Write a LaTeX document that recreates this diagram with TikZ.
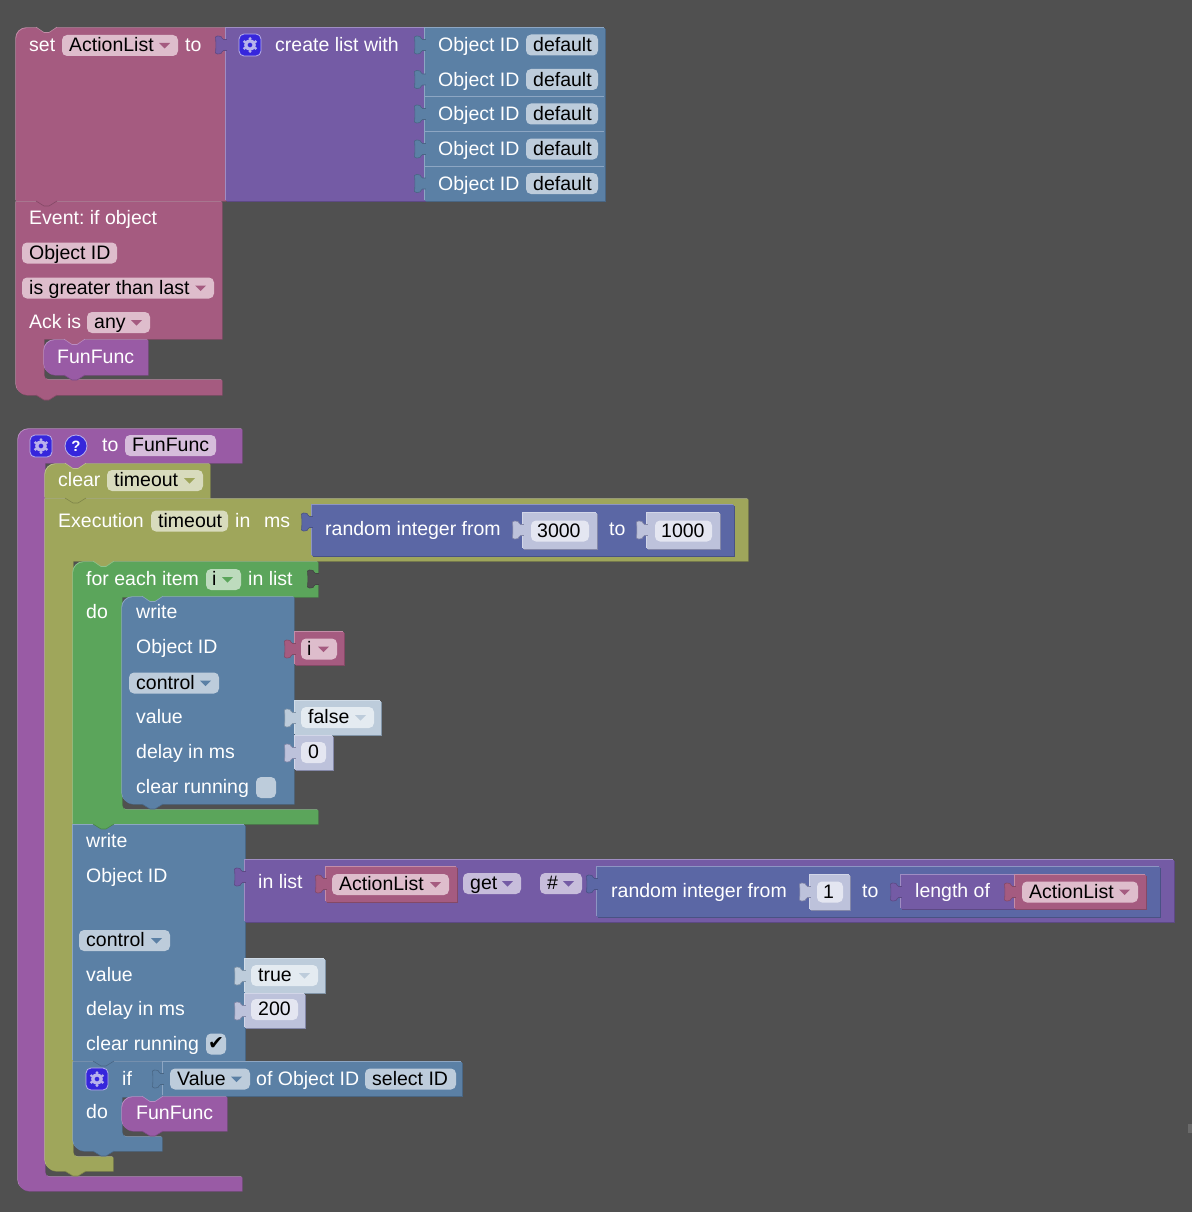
\documentclass[tikz,border=0pt]{standalone}
\usepackage{fontspec}
\setmainfont{Liberation Sans}
\newfontfamily\checkfont{DejaVu Sans}
\definecolor{bgcol}{HTML}{505050}\definecolor{bgcoldark}{HTML}{444444}
\definecolor{rose}{HTML}{A55B80}\definecolor{roselight}{HTML}{C38DA8}\definecolor{rosedark}{HTML}{844966}\definecolor{rosefield}{HTML}{DEBDCC}
\definecolor{lila}{HTML}{745BA5}\definecolor{lilalight}{HTML}{9F8DC3}\definecolor{liladark}{HTML}{5D4984}\definecolor{lilafield}{HTML}{C7BDDB}
\definecolor{proc}{HTML}{995BA5}\definecolor{proclight}{HTML}{BA8DC3}\definecolor{procdark}{HTML}{7A4984}\definecolor{procfield}{HTML}{D6BDDB}
\definecolor{olive}{HTML}{9FA65B}\definecolor{olivelight}{HTML}{BCC18D}\definecolor{olivedark}{HTML}{7F8549}\definecolor{olivefield}{HTML}{D8DBBD}
\definecolor{leaf}{HTML}{5BA55B}\definecolor{leaflight}{HTML}{8DC38D}\definecolor{leafdark}{HTML}{498449}\definecolor{leaffield}{HTML}{BDDBBD}
\definecolor{steel}{HTML}{5B80A5}\definecolor{steellight}{HTML}{8DA6C3}\definecolor{steeldark}{HTML}{496684}\definecolor{steelfield}{HTML}{BDCCDB}
\definecolor{indi}{HTML}{5B67A5}\definecolor{indilight}{HTML}{8D95C3}\definecolor{indidark}{HTML}{495284}
\definecolor{pale}{HTML}{BDCCDB}\definecolor{palelight}{HTML}{D0DCE8}\definecolor{paledark}{HTML}{8295A8}\definecolor{palefield}{HTML}{E4EBF1}
\definecolor{lav}{HTML}{BDC2DB}\definecolor{lavlight}{HTML}{D2D6E8}\definecolor{lavdark}{HTML}{8488A8}\definecolor{lavfield}{HTML}{E4E6F1}
\definecolor{iconblue}{HTML}{3626DC}\definecolor{iconpale}{HTML}{B9B2EC}
\tikzset{
  lab/.style={anchor=base west,inner sep=0pt,yshift=-.7pt,text=white,font=\fontsize{19.5}{23}\selectfont},
  fldtxt/.style={lab,text=black},
}
% block with lit and shaded rim
\newcommand{\blk}[2]{\fill[#1light,shift={(-.7pt,.7pt)}] #2; \fill[#1dark,shift={(.7pt,-.7pt)}] #2; \fill[#1] #2;}
\newcommand{\rblk}[5]{\blk{#1}{(#2,#3) rectangle (#4,#5)}}
% output tab on the left of a block
\newcommand{\otab}[3]{\draw[#1dark,line width=.6pt,fill=#1,shift={(#2,#3)}] (.9,3.5) -- (-2.5,3.5) .. controls (-4,3.5) and (-4,1) .. (-5,.5) .. controls (-7,-.3) and (-10,-.3) .. (-10.5,1) .. controls (-10,6) and (-10,12) .. (-10.5,17) .. controls (-10,18.3) and (-7,18.3) .. (-5,17.5) .. controls (-4,17) and (-4,14.5) .. (-2.5,14.5) -- (.9,14.5);}
% next tab under a block, notch on top of a block
\newcommand{\ntab}[3]{\draw[#1dark,line width=.6pt,fill=#1,shift={(#2,#3)}] (0,0) -- (8,5) -- (13,5) -- (21,0);}
\newcommand{\topnotch}[4]{\draw[#2light,line width=.6pt,fill=#1,shift={(#3,#4)}] (0,-.9) -- (8,4.5) -- (13,4.5) -- (21,-.9);}
\newcommand{\fld}[4]{\fill[#1field,rounded corners=5pt] (#2,#4-10.5) rectangle (#3,#4+10.5);}
\newcommand{\dfld}[4]{\fld{#1}{#2}{#3}{#4} \fill[#1] (#3-19,#4-2.5) -- (#3-8,#4-2.5) -- (#3-13.5,#4+3) -- cycle;}
\newcommand{\gearicon}[2]{\draw[iconpale,fill=iconblue,line width=.8pt,rounded corners=5pt] (#1-11,#2-11) rectangle (#1+11,#2+11);
  \draw[iconpale,line width=3.2pt] (#1,#2) circle (4.2pt);
  \foreach \ang in {30,90,...,330} \fill[iconpale] (#1,#2) ++(\ang:6.4) circle (1.6pt);}
\begin{document}
\frenchspacing
\begin{tikzpicture}[x=1pt,y=-1pt]
\useasboundingbox (0,0) rectangle (1192,1212);
\fill[bgcol] (0,0) rectangle (1192,1212);
\fill[bgcol!85!white] (1188,1124) rectangle (1192,1133);

% first stack
\blk{rose}{(16,39) .. controls (16,33) and (21,28) .. (27,28) -- (226,28) -- (226,201) -- (16,201) -- cycle}
\topnotch{bgcol}{rose}{36}{28}
\node[lab] (setlab) at (29,51) {set};
\dfld{rose}{62}{178}{45.5}
\node[fldtxt] (setvar) at (69,51) {ActionList};
\node[lab] (setto) at (185,51) {to};

\rblk{lila}{226}{28}{425}{201}
\otab{lila}{226}{36}
\gearicon{250}{45}
\node[lab] (createlab) at (275,51) {create list with};
\foreach \n/\yt/\yb in {1/28/62.5,2/62.5/97,3/97/132,4/132/166.5,5/166.5/201} {
  \rblk{steel}{425}{\yt}{605}{\yb}
  \otab{steel}{425}{\yt+8}
  \fld{steel}{526}{598}{\yt+17}
  \node[lab] (objlab\n) at (438,\yt+23) {Object ID};
  \node[fldtxt] (objdef\n) at (533,\yt+23) {default};
}

\blk{rose}{(16,202) -- (222,202) -- (222,339) -- (44,339) -- (44,375) .. controls (44,378) and (46,380) .. (49,380) -- (222,380) -- (222,395) -- (27,395) .. controls (21,395) and (16,390) .. (16,384) -- cycle}
\ntab{rose}{36}{201}
\node[lab] (eventlab) at (29,224) {Event: if object};
\fld{rose}{22}{117}{253}
\node[fldtxt] (eventobj) at (29,259) {Object ID};
\dfld{rose}{22}{214}{288}
\node[fldtxt] (eventcmp) at (29,294) {is greater than last};
\node[lab] (acklab) at (29,328) {Ack is};
\dfld{rose}{87}{150}{322.5}
\node[fldtxt] (ackany) at (94,328) {any};
\ntab{rose}{36}{395}

\blk{proc}{(44,351) .. controls (44,345) and (49,340) .. (55,340) -- (148,340) -- (148,375) -- (55,375) .. controls (49,375) and (44,370) .. (44,364) -- cycle}
\topnotch{rose}{proc}{64}{340}
\ntab{proc}{64}{375}
\node[lab] (funcall) at (57,363) {FunFunc};

% function body
\blk{proc}{(18,440) .. controls (18,434) and (23,429) .. (29,429) -- (242,429) -- (242,463) -- (45,463) -- (45,1172) .. controls (45,1175) and (47,1177) .. (50,1177) -- (242,1177) -- (242,1191) -- (29,1191) .. controls (23,1191) and (18,1186) .. (18,1180) -- cycle}
\gearicon{41}{446}
\draw[iconpale,fill=iconblue,line width=.8pt] (76,446) circle (11pt);
\node[text=white,inner sep=0pt,font=\fontsize{15}{15}\selectfont\bfseries] (helpmark) at (76,446) {?};
\node[lab] (tolab) at (102,451) {to};
\fld{proc}{125}{216}{445.5}
\node[fldtxt] (funname) at (132,451) {FunFunc};

\blk{olive}{(45,475) .. controls (45,469) and (50,464) .. (56,464) -- (210,464) -- (210,498) -- (45,498) -- cycle}
\topnotch{proc}{olive}{65}{464}
\node[lab] (clearlab) at (58,486) {clear};
\dfld{olive}{107}{203}{480.5}
\node[fldtxt] (cleartime) at (114,486) {timeout};

\blk{olive}{(45,499) -- (748,499) -- (748,561) -- (73,561) -- (73,1152) .. controls (73,1155) and (75,1157) .. (78,1157) -- (113,1157) -- (113,1171) -- (56,1171) .. controls (50,1171) and (45,1166) .. (45,1160) -- cycle}
\ntab{olive}{65}{498}
\ntab{olive}{65}{1171}
\node[lab] (execlab) at (58,527) {Execution};
\fld{olive}{151}{228}{521}
\node[fldtxt] (exectime) at (158,527) {timeout};
\node[lab] (inlab) at (235,527) {in};
\node[lab] (mslab) at (264,527) {ms};

\rblk{indi}{312}{505}{734}{556}
\otab{indi}{312}{513}
\node[lab] (randlab) at (325,535) {random integer from};
\foreach \n/\xl/\xr/\val in {a/523/597/3000,b/647/720/1000} {
  \rblk{lav}{\xl}{513}{\xr}{549}
  \otab{lav}{\xl}{521}
  \fld{lav}{\xl+8}{\xr-8}{531}
  \node[fldtxt] (randval\n) at (\xl+14,537) {\val};
}
\node[lab] (randto) at (609,535) {to};

% for each
\blk{leaf}{(73,573) .. controls (73,567) and (78,562) .. (84,562) -- (318,562) -- (318,597) -- (122,597) -- (122,805) .. controls (122,808) and (124,810) .. (127,810) -- (318,810) -- (318,824) -- (73,824) -- cycle}
\topnotch{olive}{leaf}{93}{562}
\otab{bgcol}{318}{570}
\node[lab] (eachlab) at (86,585) {for each item};
\dfld{leaf}{206}{241}{579.5}
\node[fldtxt] (eachvar) at (212,585) {i};
\node[lab] (eachin) at (248,585) {in list};
\node[lab] (eachdo) at (86,618) {do};

\blk{steel}{(122,608) .. controls (122,602) and (127,597) .. (133,597) -- (294,597) -- (294,804) -- (133,804) .. controls (127,804) and (122,799) .. (122,793) -- cycle}
\topnotch{leaf}{steel}{142}{597}
\ntab{steel}{142}{804}
\node[lab] (writea) at (136,618) {write};
\node[lab] (writeaobj) at (136,653) {Object ID};
\dfld{steel}{129}{219}{683}
\node[fldtxt] (writeactl) at (136,689) {control};
\node[lab] (writeaval) at (136,723) {value};
\node[lab] (writeadel) at (136,758) {delay in ms};
\node[lab] (writeaclr) at (136,793) {clear running};
\fld{steel}{256}{276}{787.5}

\rblk{rose}{295}{632}{344}{665}
\otab{rose}{295}{640}
\dfld{rose}{301}{337}{649}
\node[fldtxt] (vari) at (307,655) {i};
\rblk{pale}{295}{701}{381}{735}
\otab{pale}{295}{709}
\dfld{pale}{301}{374}{717.5}
\node[fldtxt] (valfalse) at (308,723) {false};
\rblk{lav}{295}{736}{333}{770}
\otab{lav}{295}{744}
\fld{lav}{301}{326}{752.5}
\node[fldtxt] (delzero) at (308,758) {0};

% second write
\rblk{steel}{73}{825}{245}{1061}
\ntab{leaf}{93}{824}
\node[lab] (writeb) at (86,847) {write};
\node[lab] (writebobj) at (86,882) {Object ID};
\dfld{steel}{79}{170}{940.5}
\node[fldtxt] (writebctl) at (86,946) {control};
\node[lab] (writebval) at (86,981) {value};
\node[lab] (writebdel) at (86,1015) {delay in ms};
\node[lab] (writebclr) at (86,1050) {clear running};
\fld{steel}{206}{226}{1044}
\node[inner sep=0pt,font=\checkfont\fontsize{19}{19}\selectfont] (clrcheck) at (216,1043) {✔};

\rblk{lila}{245}{860}{1174}{922}
\otab{lila}{245}{868}
\node[lab] (inlistlab) at (258,888) {in list};
\rblk{rose}{326}{867}{457}{902}
\otab{rose}{326}{875}
\dfld{rose}{332}{449}{884.5}
\node[fldtxt] (getvar) at (339,890) {ActionList};
\dfld{lila}{463}{521}{883.5}
\node[fldtxt] (getlab) at (470,889) {get};
\dfld{lila}{540}{582}{883.5}
\node[fldtxt] (hashlab) at (547,889) {\#};

\rblk{indi}{597}{867}{1160}{917}
\otab{indi}{597}{875}
\node[lab] (randblab) at (611,897) {random integer from};
\rblk{lav}{810}{875}{850}{910}
\otab{lav}{810}{883}
\fld{lav}{817}{843}{892}
\node[fldtxt] (randone) at (823,898) {1};
\node[lab] (randbto) at (862,897) {to};
\rblk{lila}{901}{875}{1015}{909}
\otab{lila}{901}{883}
\node[lab] (lenlab) at (915,897) {length of};
\rblk{rose}{1015}{875}{1146}{909}
\otab{rose}{1015}{883}
\dfld{rose}{1022}{1138}{892}
\node[fldtxt] (lenvar) at (1029,898) {ActionList};

\rblk{pale}{245}{959}{325}{993}
\otab{pale}{245}{967}
\dfld{pale}{251}{318}{975.5}
\node[fldtxt] (valtrue) at (258,981) {true};
\rblk{lav}{245}{994}{305}{1028}
\otab{lav}{245}{1002}
\fld{lav}{251}{298}{1009.5}
\node[fldtxt] (delval) at (258,1015) {200};

% if block
\blk{steel}{(73,1062) -- (163,1062) -- (163,1097) -- (122,1097) -- (122,1132) .. controls (122,1135) and (124,1137) .. (127,1137) -- (162,1137) -- (162,1151) -- (84,1151) .. controls (78,1151) and (73,1146) .. (73,1140) -- cycle}
\ntab{steel}{93}{1061}
\ntab{steel}{93}{1151}
\gearicon{97}{1079}
\node[lab] (iflab) at (122,1085) {if};
\node[lab] (dolab) at (86,1118) {do};
\rblk{steel}{163}{1062}{462}{1096}
\otab{steel}{163}{1070}
\dfld{steel}{170}{250}{1079}
\node[fldtxt] (condval) at (177,1085) {Value};
\node[lab] (condof) at (256,1085) {of Object ID};
\fld{steel}{365}{456}{1079}
\node[fldtxt] (condsel) at (372,1085) {select ID};

\blk{proc}{(122,1108) .. controls (122,1102) and (127,1097) .. (133,1097) -- (227,1097) -- (227,1131) -- (133,1131) .. controls (127,1131) and (122,1126) .. (122,1120) -- cycle}
\topnotch{steel}{proc}{142}{1097}
\ntab{proc}{142}{1131}
\node[lab] (funcallb) at (136,1119) {FunFunc};
\end{tikzpicture}
\end{document}
